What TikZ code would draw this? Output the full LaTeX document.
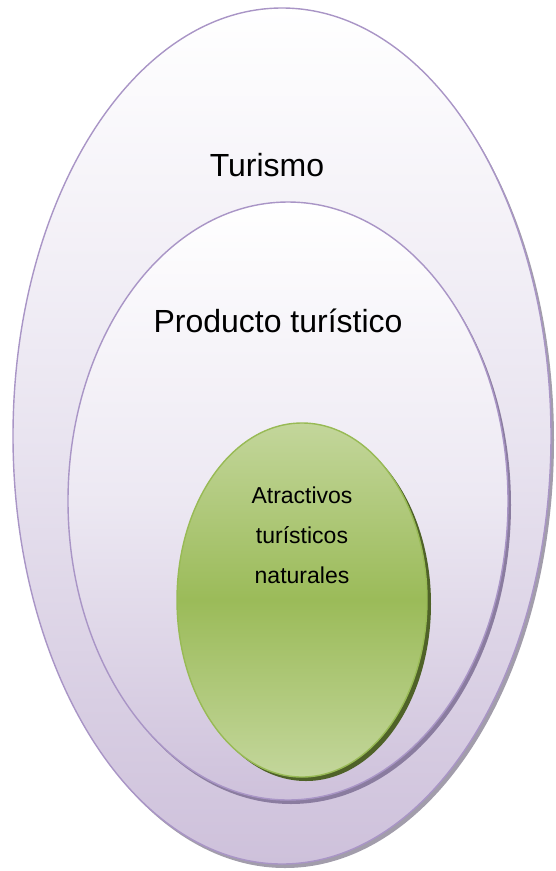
\documentclass[tikz,border=0pt]{standalone}
\usepackage{fontspec}
\setmainfont{Liberation Sans}
\usetikzlibrary{shapes.geometric}
\definecolor{lavborder}{HTML}{A995C6}
\definecolor{lavlow}{HTML}{CEC1DB}
\definecolor{lavmid}{HTML}{E9E4F0}
\definecolor{greentop}{HTML}{C3D69B}
\definecolor{greenmid}{HTML}{9BBB59}
\definecolor{greenborder}{HTML}{98BA55}
\definecolor{greenshadow}{HTML}{4F6228}
\definecolor{midshadow}{HTML}{8A7C9F}
\definecolor{outshadow}{HTML}{A29DAB}
\tikzset{
  oval/.style={ellipse, inner sep=0pt, line width=1.4pt},
  lavoval/.style={oval, draw=lavborder, top color=white, bottom color=lavlow, middle color=lavmid},
  shadowoval/.style={ellipse, inner sep=0pt, draw=none},
  bigtext/.style={font=\fontsize{32}{36}\selectfont, text=black},
  smalltext/.style={font=\fontsize{23}{40}\selectfont, text=black, align=center}
}
\begin{document}
\begin{tikzpicture}[x=1pt,y=-1pt]
\useasboundingbox (0,0) rectangle (556,871);
% outer
\node[shadowoval, fill=outshadow, minimum width=538pt, minimum height=856pt] (outsh) at (285,440) {};
\node[lavoval, minimum width=538pt, minimum height=856pt] (outer) at (282,436) {};
% middle
\node[shadowoval, fill=midshadow, minimum width=440pt, minimum height=598pt] (midsh) at (291,505) {};
\node[lavoval, top color=white, bottom color=lavlow, middle color=lavmid!85!white, minimum width=440pt, minimum height=598pt] (middle) at (288,501) {};
% inner
\node[shadowoval, fill=greenshadow, minimum width=250pt, minimum height=354pt] (insh) at (306,604) {};
\node[oval, draw=greenborder, top color=greentop, bottom color=greentop, middle color=greenmid, minimum width=250pt, minimum height=354pt] (inner) at (302,600) {};
% texts
\node[bigtext] (t1) at (267,165) {Turismo};
\node[bigtext] (t2) at (278,321) {Producto turístico};
\node[smalltext] (t3) at (302,535) {Atractivos\\turísticos\\naturales};
\end{tikzpicture}
\end{document}
